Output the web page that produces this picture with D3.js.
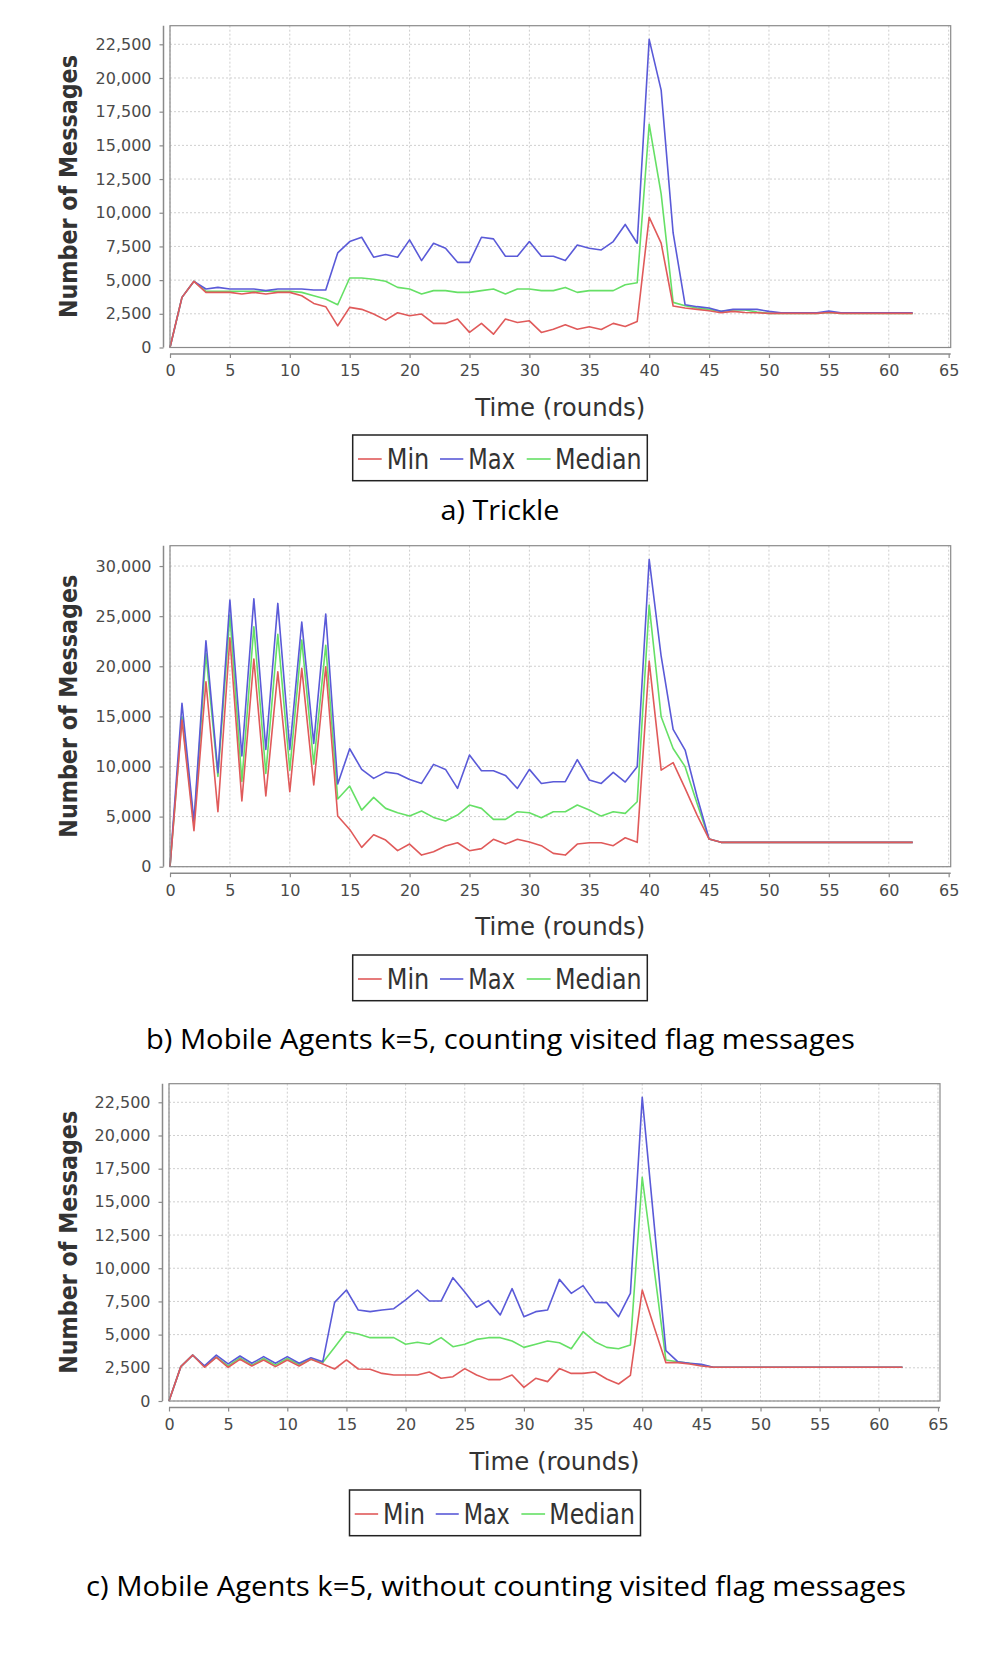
<!DOCTYPE html>
<html>
<head>
<meta charset="utf-8">
<script src="https://cdn.jsdelivr.net/npm/d3@7"></script>
<style>
  html, body { margin: 0; padding: 0; background: #ffffff; }
  svg { display: block; }
</style>
</head>
<body>
<script>
// ---------------- DATA ----------------
const rounds = d3.range(0, 63);            // x values 0..62
const xTickValues = d3.range(0, 66, 5);    // 0..65
const seriesNames = ["Min", "Max", "Median"];

// a) Trickle
const trickleMin = [0,3720,4910,4090,4090,4090,3970,4090,3970,4090,4090,3840,3270,3030,1610,2980,2830,2480,2030,2580,2360,2480,1790,1790,2110,1120,1790,990,2110,1860,1980,1120,1360,1690,1360,1540,1340,1790,1560,1930,9670,7740,3080,2930,2830,2730,2580,2680,2600,2580,2530,2530,2530,2530,2530,2600,2530,2530,2530,2530,2530,2530,2530];
const trickleMax = [0,3720,4910,4340,4460,4340,4340,4340,4220,4340,4340,4340,4270,4270,7020,7860,8180,6700,6900,6700,7990,6450,7740,7370,6320,6320,8180,8060,6770,6770,7860,6770,6770,6450,7610,7370,7240,7860,9130,7740,22870,19100,8500,3170,3030,2930,2680,2830,2830,2830,2680,2580,2580,2580,2580,2700,2580,2580,2580,2580,2580,2580,2580];
const trickleMedian = [0,3720,4910,4170,4170,4170,4170,4170,4170,4170,4170,4090,3840,3600,3170,5160,5160,5060,4910,4460,4340,3970,4220,4220,4090,4090,4220,4340,3970,4340,4340,4220,4220,4460,4090,4220,4220,4220,4660,4810,16570,11400,3350,3100,2930,2830,2680,2780,2780,2630,2530,2530,2530,2530,2530,2600,2530,2530,2530,2530,2530,2530,2530];

// b) Mobile Agents k=5, counting visited flag messages
const countingMin = [0,14630,3590,18460,5490,22850,6550,20720,7050,19450,7480,19790,8150,19950,5050,3720,1930,3190,2660,1600,2260,1160,1500,2060,2390,1600,1800,2730,2260,2730,2460,2100,1330,1160,2260,2390,2390,2100,2890,2430,20520,9640,10380,7810,5150,2760,2430,2430,2430,2430,2430,2430,2430,2430,2430,2430,2430,2430,2430,2430,2430,2430,2430];
const countingMax = [0,16300,4500,22550,9380,26600,11040,26740,11700,26270,11700,24410,12300,25210,8250,11770,9710,8810,9440,9280,8710,8310,10210,9710,7810,11140,9580,9580,9110,7810,9710,8310,8480,8480,10680,8650,8310,9410,8450,9980,30660,21000,13700,11640,6980,2760,2430,2430,2430,2430,2430,2430,2430,2430,2430,2430,2430,2430,2430,2430,2430,2430,2430];
const countingMedian = [0,14960,4200,21280,9000,25100,8500,23940,9300,23180,9640,22610,10240,22080,6750,8050,5650,6920,5820,5390,5050,5550,4920,4560,5150,6150,5820,4720,4720,5490,5390,4890,5490,5490,6150,5650,5050,5490,5320,6480,26100,14960,11800,9980,6300,2760,2430,2430,2430,2430,2430,2430,2430,2430,2430,2430,2430,2430,2430,2430,2430,2430,2430];

// c) Mobile Agents k=5, without counting visited flag messages
const withoutMin = [0,2590,3460,2540,3290,2540,3140,2640,3090,2590,3090,2640,3140,2790,2410,3090,2410,2390,2080,1960,1960,1960,2180,1710,1830,2440,1960,1610,1610,1960,1030,1710,1460,2440,2080,2080,2180,1660,1280,1930,8360,5600,2890,2890,2790,2640,2540,2540,2540,2540,2540,2540,2540,2540,2540,2540,2540,2540,2540,2540,2540,2540,2540];
const withoutMax = [0,2590,3460,2640,3460,2790,3390,2840,3340,2840,3340,2840,3260,2960,7430,8360,6850,6730,6850,6950,7610,8360,7530,7530,9290,8210,7060,7560,6480,8460,6350,6730,6850,9160,8110,8690,7430,7410,6350,8110,22870,13400,3790,2960,2840,2760,2540,2540,2540,2540,2540,2540,2540,2540,2540,2540,2540,2540,2540,2540,2540,2540,2540];
const withoutMedian = [0,2590,3460,2600,3300,2650,3250,2700,3200,2700,3200,2750,3150,2900,4040,5220,5050,4770,4770,4770,4270,4420,4270,4770,4090,4270,4640,4770,4770,4520,4040,4270,4520,4390,3940,5220,4470,4040,3940,4220,16850,10000,3090,2960,2840,2710,2540,2540,2540,2540,2540,2540,2540,2540,2540,2540,2540,2540,2540,2540,2540,2540,2540];

const captions = [
  "a) Trickle",
  "b) Mobile Agents k=5, counting visited flag messages",
  "c) Mobile Agents k=5, without counting visited flag messages"
];
const xAxisTitle = "Time (rounds)";
const yAxisTitle = "Number of Messages";

// ---------------- STYLE / LAYOUT ----------------
const W = 1002, H = 1664;
const colors = { Min: "#e05a5a", Max: "#5a5ad8", Median: "#66e066" };
const tickFont = "'DejaVu Sans', Verdana, sans-serif";
const captionFont = "'Open Sans', 'Noto Sans', sans-serif";

const charts = [
  { data: { Min: trickleMin, Max: trickleMax, Median: trickleMedian },
    left: 170, right: 950.7, top: 25.7, bottom: 347.5, yMax: 23880, yStep: 2500,
    legendLeft: 352.7, legendTop: 435, legendW: 294.6,
    caption: captions[0], captionX: 500, captionY: 520, captionW: 119 },
  { data: { Min: countingMin, Max: countingMax, Median: countingMedian },
    left: 170, right: 950.7, top: 545.7, bottom: 866.7, yMax: 32030, yStep: 5000,
    legendLeft: 352.7, legendTop: 955, legendW: 294.6,
    caption: captions[1], captionX: 500.5, captionY: 1049, captionW: 709 },
  { data: { Min: withoutMin, Max: withoutMax, Median: withoutMedian },
    left: 169, right: 940, top: 1083.7, bottom: 1401, yMax: 23900, yStep: 2500,
    legendLeft: 349.5, legendTop: 1490, legendW: 291,
    caption: captions[2], captionX: 496, captionY: 1596, captionW: 820 }
];

const svg = d3.select("body").append("svg")
  .attr("width", W).attr("height", H)
  .attr("viewBox", `0 0 ${W} ${H}`);

function fitText(sel, width) {
  if (width) sel.attr("textLength", width).attr("lengthAdjust", "spacingAndGlyphs");
  return sel;
}

charts.forEach(cfg => {
  const g = svg.append("g");
  const x = d3.scaleLinear().domain([0, 65.17]).range([cfg.left, cfg.right]);
  const y = d3.scaleLinear().domain([0, cfg.yMax]).range([cfg.bottom, cfg.top]);
  const yTickValues = d3.range(0, cfg.yMax, cfg.yStep);
  const fmt = d3.format(",");

  // plot background
  g.append("rect")
    .attr("x", cfg.left).attr("y", cfg.top)
    .attr("width", cfg.right - cfg.left).attr("height", cfg.bottom - cfg.top)
    .attr("fill", "#ffffff");

  // gridlines
  const grid = g.append("g").attr("stroke", "#cfcfcf").attr("stroke-width", 1)
    .attr("stroke-dasharray", "2,2");
  grid.selectAll("line.h").data(yTickValues).join("line")
    .attr("x1", cfg.left).attr("x2", cfg.right)
    .attr("y1", d => y(d)).attr("y2", d => y(d));
  grid.selectAll("line.v").data(xTickValues).join("line")
    .attr("y1", cfg.top).attr("y2", cfg.bottom)
    .attr("x1", d => x(d)).attr("x2", d => x(d));

  // series lines (drawn reverse so Min is on top)
  const line = d3.line().x((d, i) => x(rounds[i])).y(d => y(d));
  ["Median", "Max", "Min"].forEach(name => {
    g.append("path")
      .datum(cfg.data[name])
      .attr("d", line)
      .attr("fill", "none")
      .attr("stroke", colors[name])
      .attr("stroke-width", 1.6)
      .attr("stroke-linejoin", "round");
  });

  // plot outline
  g.append("rect")
    .attr("x", cfg.left).attr("y", cfg.top)
    .attr("width", cfg.right - cfg.left).attr("height", cfg.bottom - cfg.top)
    .attr("fill", "none").attr("stroke", "#8a8a8a").attr("stroke-width", 1.2);

  // y axis (offset)
  const yAxisX = cfg.left - 6.5;
  const yAxis = d3.axisLeft(y).tickValues(yTickValues).tickFormat(fmt)
    .tickSizeInner(4).tickSizeOuter(0).tickPadding(8);
  const ya = g.append("g").attr("transform", `translate(${yAxisX},0)`).call(yAxis);
  ya.select(".domain").attr("stroke", "#8a8a8a").attr("stroke-width", 1.5)
    .attr("d", `M0,${cfg.top}V${cfg.bottom}`);
  ya.selectAll(".tick line").attr("stroke", "#8a8a8a").attr("stroke-width", 1.2);
  ya.selectAll(".tick text").attr("fill", "#4a4a4a")
    .style("font-family", tickFont).style("font-size", "16px");

  // x axis (offset)
  const xAxisY = cfg.bottom + 6.5;
  const xAxis = d3.axisBottom(x).tickValues(xTickValues).tickFormat(d3.format("d"))
    .tickSizeInner(4).tickSizeOuter(0).tickPadding(7);
  const xa = g.append("g").attr("transform", `translate(0,${xAxisY})`).call(xAxis);
  xa.select(".domain").attr("stroke", "#8a8a8a").attr("stroke-width", 1.5)
    .attr("d", `M${cfg.left},0H${cfg.right}`);
  xa.selectAll(".tick line").attr("stroke", "#8a8a8a").attr("stroke-width", 1.2);
  xa.selectAll(".tick text").attr("fill", "#4a4a4a")
    .style("font-family", tickFont).style("font-size", "16px");

  // axis titles
  const cx = (cfg.left + cfg.right) / 2;
  fitText(g.append("text")
    .attr("x", cx).attr("y", cfg.bottom + 68.5)
    .attr("text-anchor", "middle")
    .attr("fill", "#333333")
    .style("font-family", tickFont).style("font-size", "25px")
    .text(xAxisTitle), 170);

  const cy = (cfg.top + cfg.bottom) / 2;
  fitText(g.append("text")
    .attr("transform", `translate(77,${cy}) rotate(-90)`)
    .attr("text-anchor", "middle")
    .attr("fill", "#333333")
    .style("font-family", tickFont).style("font-size", "24px").style("font-weight", "bold")
    .text(yAxisTitle), 263);

  // legend
  const lg = g.append("g").attr("transform", `translate(${cfg.legendLeft},${cfg.legendTop})`);
  lg.append("rect").attr("x", 0).attr("y", 0).attr("width", cfg.legendW).attr("height", 45.7)
    .attr("fill", "#ffffff").attr("stroke", "#222222").attr("stroke-width", 1.5);
  const k = cfg.legendW / 294.6;
  const items = [
    { name: "Min", l0: 5.3, l1: 29, t0: 34, tw: 42.6 },
    { name: "Max", l0: 87.3, l1: 110.6, t0: 115.6, tw: 46.7 },
    { name: "Median", l0: 174, l1: 198, t0: 202.3, tw: 86.7 }
  ];
  items.forEach(it => {
    lg.append("line")
      .attr("x1", it.l0 * k).attr("x2", it.l1 * k).attr("y1", 24).attr("y2", 24)
      .attr("stroke", colors[it.name]).attr("stroke-width", 1.6);
    fitText(lg.append("text")
      .attr("x", it.t0 * k).attr("y", 34.3)
      .attr("fill", "#333333")
      .style("font-family", tickFont).style("font-size", "28.5px")
      .text(it.name), it.tw * k);
  });

  // caption
  fitText(svg.append("text")
    .attr("x", cfg.captionX).attr("y", cfg.captionY)
    .attr("text-anchor", "middle")
    .attr("fill", "#000000")
    .style("font-family", captionFont).style("font-size", "28px")
    .text(cfg.caption), cfg.captionW);
});
</script>
</body>
</html>
